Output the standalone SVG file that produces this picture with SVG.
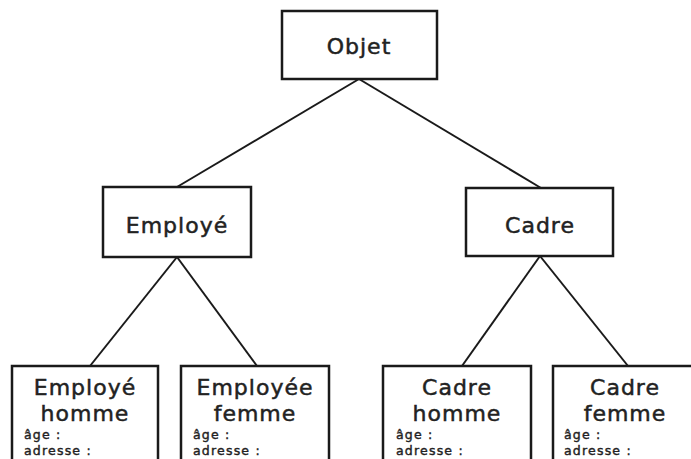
<svg xmlns="http://www.w3.org/2000/svg" width="691" height="459" viewBox="0 0 691 459">
<style>
.box{fill:#fff;stroke:#1a1a1a;stroke-width:2.5}
.ln{stroke:#1a1a1a;stroke-width:2;fill:none}
.t{font-family:"DejaVu Sans",sans-serif;font-size:22px;fill:#222;stroke:#222;stroke-width:0.5;letter-spacing:1px;text-anchor:middle}
.s{font-family:"DejaVu Sans",sans-serif;font-size:12.5px;fill:#222;stroke:#222;stroke-width:0.4;letter-spacing:1.2px}
</style>
<rect width="691" height="459" fill="#fff"/>
<g id="connectors">
<line class="ln" x1="359" y1="79" x2="177" y2="187"/>
<line class="ln" x1="359" y1="79" x2="541" y2="188"/>
<line class="ln" x1="177" y1="257" x2="90" y2="366"/>
<line class="ln" x1="177" y1="257" x2="257" y2="366"/>
<line class="ln" x1="540" y1="256" x2="462" y2="366"/>
<line class="ln" x1="540" y1="256" x2="628" y2="366"/>
</g>
<g id="objet">
<rect class="box" x="282" y="11" width="155" height="68"/>
<text class="t" x="359" y="54">Objet</text>
</g>
<g id="employe">
<rect class="box" x="103" y="187" width="148" height="70"/>
<text class="t" x="177" y="233">Employé</text>
</g>
<g id="cadre">
<rect class="box" x="466" y="188" width="147" height="68"/>
<text class="t" x="540" y="233">Cadre</text>
</g>
<g id="employe-homme">
<rect class="box" x="12" y="366" width="146" height="100"/>
<text class="t" x="85" y="395">Employé</text>
<text class="t" x="85" y="421">homme</text>
<text class="s" x="24" y="439">âge :</text>
<text class="s" x="24" y="455">adresse :</text>
</g>
<g id="employee-femme">
<rect class="box" x="181" y="366" width="148" height="100"/>
<text class="t" x="255" y="395">Employée</text>
<text class="t" x="255" y="421">femme</text>
<text class="s" x="193" y="439">âge :</text>
<text class="s" x="193" y="455">adresse :</text>
</g>
<g id="cadre-homme">
<rect class="box" x="383" y="366" width="148" height="100"/>
<text class="t" x="457" y="395">Cadre</text>
<text class="t" x="457" y="421">homme</text>
<text class="s" x="396" y="439">âge :</text>
<text class="s" x="396" y="455">adresse :</text>
</g>
<g id="cadre-femme">
<rect class="box" x="553" y="366" width="148" height="100"/>
<text class="t" x="625" y="395">Cadre</text>
<text class="t" x="625" y="421">femme</text>
<text class="s" x="564" y="439">âge :</text>
<text class="s" x="564" y="455">adresse :</text>
</g>
</svg>
